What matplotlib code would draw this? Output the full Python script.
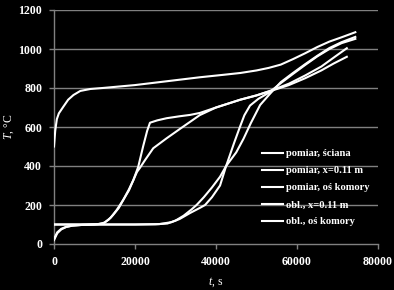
import matplotlib
matplotlib.use("Agg")
import matplotlib.pyplot as plt

plt.rcParams["mathtext.fontset"] = "custom"
plt.rcParams["mathtext.it"] = "Liberation Serif:italic"
plt.rcParams["mathtext.rm"] = "Liberation Serif"

# Time [s] and temperature [°C] series
t_wall = [0, 300, 700, 1200, 2300, 3500, 4800, 6500, 9000, 12000, 20000, 28000,
          36000, 42000, 46000, 50000, 53000, 56000, 59000, 62000, 65000, 68000,
          71000, 74400]
T_wall = [500, 580, 640, 670, 704, 740, 764, 785, 795, 800, 815, 835,
          855, 868, 877, 890, 903, 920, 948, 978, 1010, 1038, 1060, 1086]

t_meas_x = [0, 4000, 8000, 11000, 12500, 14000, 15500, 17100, 18500, 19600, 20500,
            21200, 22500, 24500, 27800, 31900, 36000, 40000, 46000, 50000, 54000,
            58000, 62000, 66000, 69000, 72300]
T_meas_x = [100, 100, 100, 102, 110, 135, 175, 226, 280, 328, 370,
            390, 431, 491, 542, 602, 661, 700, 740, 762, 790,
            822, 864, 910, 955, 1004]

t_meas_axis = [0, 5000, 10000, 20000, 25000, 28000, 30000, 32000, 34000, 35200,
               37000, 39000, 41000, 42500, 45000, 46800, 48600, 50900, 53400,
               56000, 59000, 62000, 65000, 68000, 71000, 74400]
T_meas_axis = [100, 100, 100, 100, 101, 105, 120, 145, 178, 200,
               240, 290, 345, 400, 470, 540, 620, 713, 772,
               830, 877, 922, 965, 1005, 1035, 1062]

t_calc_x = [0, 800, 1800, 3000, 4500, 7000, 10000, 12200, 13500, 14600, 16000,
            17100, 18500, 19600, 20800, 22000, 23000, 23700, 25500, 27800, 31000,
            33600, 36000, 40000, 46000, 50000, 54000, 58000, 62000, 66000, 69000,
            72300]
T_calc_x = [25, 60, 78, 88, 94, 98, 100, 106, 125, 149, 185,
            226, 275, 328, 396, 500, 580, 622, 634, 645, 655,
            662, 672, 700, 740, 762, 788, 815, 850, 890, 925,
            960]

t_calc_axis = [0, 800, 1800, 3000, 4500, 7000, 10000, 20000, 26000, 29000, 31000,
               33600, 36000, 37300, 39000, 41000, 42500, 44500, 45900, 47000,
               48400, 50500, 53000, 56000, 59000, 62000, 65000, 68000, 71000, 74400]
T_calc_axis = [20, 55, 75, 87, 94, 98, 100, 100, 102, 112, 128,
               159, 185, 200, 240, 300, 400, 520, 600, 660,
               710, 745, 775, 825, 872, 918, 962, 1000, 1030, 1052]

labels = ["pomiar, ściana", "pomiar, x=0.11 m", "pomiar, oś komory",
          "obl., x=0.11 m", "obl., oś komory"]
x_ticks = [0, 20000, 40000, 60000, 80000]
y_ticks = [0, 200, 400, 600, 800, 1000, 1200]

series = [(t_wall, T_wall), (t_meas_x, T_meas_x), (t_meas_axis, T_meas_axis),
          (t_calc_x, T_calc_x), (t_calc_axis, T_calc_axis)]

W, H = 394, 290
fig = plt.figure(figsize=(W / 100, H / 100), dpi=100, facecolor="black")
ax = fig.add_axes([54 / W, 1 - 244 / H, 324 / W, 234 / H], facecolor="black")

grid_c = "#808080"
for yv in y_ticks[1:]:
    ax.axhline(yv, color=grid_c, lw=1.0, zorder=1)

for (t, T), lab in zip(series, labels):
    ax.plot(t, T, color="white", lw=1.5, label=lab, zorder=3,
            solid_joinstyle="round")

ax.set_xlim(0, 80000)
ax.set_ylim(0, 1200)
ax.set_xticks(x_ticks)
ax.set_yticks(y_ticks)
ax.set_xticklabels([str(v) for v in x_ticks])
ax.set_yticklabels([str(v) for v in y_ticks])

for s in ["top", "right"]:
    ax.spines[s].set_visible(False)
for s in ["left", "bottom"]:
    ax.spines[s].set_color(grid_c)
    ax.spines[s].set_linewidth(1.0)

ax.tick_params(axis="both", colors=grid_c, length=3.5, width=1.0, direction="out")
ax.tick_params(axis="x", pad=5, labelcolor="white")
ax.tick_params(axis="y", pad=5, labelcolor="white")
for lbl in ax.get_xticklabels() + ax.get_yticklabels():
    lbl.set_fontfamily("Liberation Serif")
    lbl.set_fontweight("bold")
    lbl.set_fontsize(8.6)

# Axis titles placed at fixed figure positions
fig.text(216 / W, 1 - 282 / H, "$t$, s", color="white", family="Liberation Serif",
         size=8.5, ha="center", va="center")
fig.text(9 / W, 1 - 127 / H, "$T$, °C", color="white", family="Liberation Serif",
         size=8.5, ha="center", va="center", rotation=90)

leg = ax.legend(loc="upper left", bbox_to_anchor=(262 / W, 1 - 149 / H),
                bbox_transform=fig.transFigure, frameon=False,
                prop=dict(family="Liberation Serif", weight="bold", size=7.6),
                handlelength=1.95, handletextpad=0.3, labelspacing=0.72,
                borderpad=0, borderaxespad=0)
for txt in leg.get_texts():
    txt.set_color("white")

fig.savefig("out.png", dpi=100, facecolor="black")
